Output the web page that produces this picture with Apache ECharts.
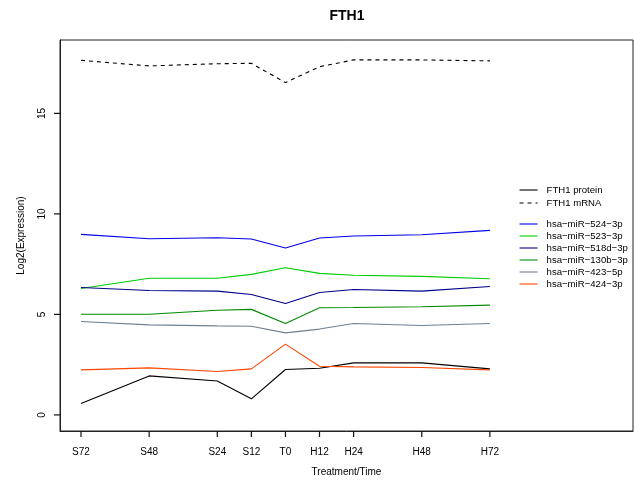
<!DOCTYPE html>
<html>
<head>
<meta charset="utf-8">
<script src="https://cdn.jsdelivr.net/npm/echarts@6/dist/echarts.min.js"></script>
<style>
  html, body { margin: 0; padding: 0; background: #fff; }
  #chart { width: 634px; height: 482px; }
</style>
</head>
<body>
<div id="chart"></div>
<script>
// Time points (hours relative to treatment start) and their tick labels
const timeLabels = ['S72', 'S48', 'S24', 'S12', 'T0', 'H12', 'H24', 'H48', 'H72'];
const timeHours = [-72, -48, -24, -12, 0, 12, 24, 48, 72];
const yTicks = [0, 5, 10, 15];

// Log2 expression per time point
const fth1Protein = [0.57, 1.94, 1.69, 0.80, 2.26, 2.32, 2.59, 2.59, 2.29];
const fth1Mrna = [17.64, 17.36, 17.47, 17.49, 16.53, 17.32, 17.66, 17.66, 17.61];
const mir524 = [8.98, 8.76, 8.81, 8.75, 8.30, 8.80, 8.90, 8.96, 9.18];
const mir523 = [6.29, 6.80, 6.80, 6.99, 7.32, 7.04, 6.95, 6.89, 6.77];
const mir518d = [6.34, 6.19, 6.16, 5.99, 5.54, 6.09, 6.24, 6.16, 6.39];
const mir130b = [5.01, 5.01, 5.21, 5.25, 4.55, 5.33, 5.34, 5.38, 5.46];
const mir423 = [4.65, 4.48, 4.43, 4.41, 4.08, 4.27, 4.55, 4.45, 4.55];
const mir424 = [2.24, 2.34, 2.16, 2.29, 3.52, 2.42, 2.39, 2.36, 2.24];

const FONT = '"Liberation Sans", Arial, Helvetica, sans-serif';

const mainNames = ['FTH1 protein', 'FTH1 mRNA'];
const mirNames = ['hsa−miR−524−3p', 'hsa−miR−523−3p', 'hsa−miR−518d−3p',
                  'hsa−miR−130b−3p', 'hsa−miR−423−5p', 'hsa−miR−424−3p'];

const X_MIN = -79.4, X_MAX = 122.4;
const Y_MIN = -0.8, Y_MAX = 18.65;
const TICK_LEN = 6;

function pairs(values) {
  return timeHours.map((h, i) => [h, values[i]]);
}

function lineSeries(name, values, color, dashed) {
  return {
    name: name,
    type: 'line',
    data: pairs(values),
    symbol: 'none',
    smooth: false,
    animation: false,
    color: color,
    lineStyle: { color: color, width: 1.1, type: dashed ? [4, 4] : 'solid' }
  };
}

const series = [
  lineSeries(mainNames[0], fth1Protein, '#000000', false),
  lineSeries(mainNames[1], fth1Mrna, '#000000', true),
  lineSeries(mirNames[0], mir524, '#0000ee', false),
  lineSeries(mirNames[1], mir523, '#00cd00', false),
  lineSeries(mirNames[2], mir518d, '#00008b', false),
  lineSeries(mirNames[3], mir130b, '#008b00', false),
  lineSeries(mirNames[4], mir423, '#708090', false),
  lineSeries(mirNames[5], mir424, '#ff4500', false)
];

const legendCommon = {
  orient: 'vertical',
  left: 519,
  itemWidth: 18,
  itemHeight: 12,
  selectedMode: false,
  padding: 0,
  itemStyle: { opacity: 0 },
  lineStyle: { width: 1.1 },
  textStyle: { fontFamily: FONT, fontSize: 9.6, lineHeight: 12, color: '#000', padding: [0, 0, 0, 4] }
};

const axisLineStyle = { color: '#222', width: 1 };

const chart = echarts.init(document.getElementById('chart'), null, { renderer: 'canvas' });
chart.setOption({
  backgroundColor: '#ffffff',
  animation: false,
  title: {
    text: 'FTH1',
    left: 342,
    top: 4,
    textAlign: 'center',
    textStyle: { fontFamily: FONT, fontSize: 14, fontWeight: 'bold', color: '#000' }
  },
  legend: [
    Object.assign({}, legendCommon, { top: 184, itemGap: 1, data: mainNames }),
    Object.assign({}, legendCommon, { top: 218, itemGap: 0, data: mirNames })
  ],
  grid: {
    left: 60, right: 1, top: 40, bottom: 51,
    show: true, borderColor: '#222', borderWidth: 1, backgroundColor: 'transparent'
  },
  xAxis: {
    type: 'value',
    position: 'bottom',
    min: X_MIN,
    max: X_MAX,
    name: 'Treatment/Time',
    nameLocation: 'middle',
    nameGap: 36,
    nameTextStyle: { fontFamily: FONT, fontSize: 10, color: '#000' },
    axisLine: { show: true, onZero: false, lineStyle: axisLineStyle },
    splitLine: { show: false },
    axisTick: { show: false },
    axisLabel: {
      customValues: timeHours,
      margin: 16,
      fontFamily: FONT, fontSize: 10, color: '#000',
      formatter: v => timeLabels[timeHours.indexOf(v)]
    }
  },
  yAxis: {
    type: 'value',
    position: 'left',
    min: Y_MIN,
    max: Y_MAX,
    name: 'Log2(Expression)',
    nameLocation: 'middle',
    nameGap: 34,
    nameTextStyle: { fontFamily: FONT, fontSize: 10, color: '#000' },
    axisLine: { show: true, onZero: false, lineStyle: axisLineStyle },
    splitLine: { show: false },
    axisTick: { show: false },
    axisLabel: {
      customValues: yTicks,
      rotate: 90,
      margin: 13,
      fontFamily: FONT, fontSize: 10, color: '#000'
    }
  },
  series: series
});

// Outward tick marks, placed through the axes' own scales
const xEdge = chart.convertToPixel({ yAxisIndex: 0 }, Y_MIN);
const yEdge = chart.convertToPixel({ xAxisIndex: 0 }, X_MIN);
const tickLine = { stroke: '#111', lineWidth: 1.2 };
const tickGraphics = [];
timeHours.forEach(h => {
  const px = chart.convertToPixel({ xAxisIndex: 0 }, h);
  tickGraphics.push({
    type: 'line', silent: true, z: 100,
    shape: { x1: px, y1: xEdge, x2: px, y2: xEdge + TICK_LEN },
    style: tickLine
  });
});
yTicks.forEach(v => {
  const py = chart.convertToPixel({ yAxisIndex: 0 }, v);
  tickGraphics.push({
    type: 'line', silent: true, z: 100,
    shape: { x1: yEdge - TICK_LEN, y1: py, x2: yEdge, y2: py },
    style: tickLine
  });
});
chart.setOption({ graphic: { elements: tickGraphics } });
</script>
</body>
</html>
